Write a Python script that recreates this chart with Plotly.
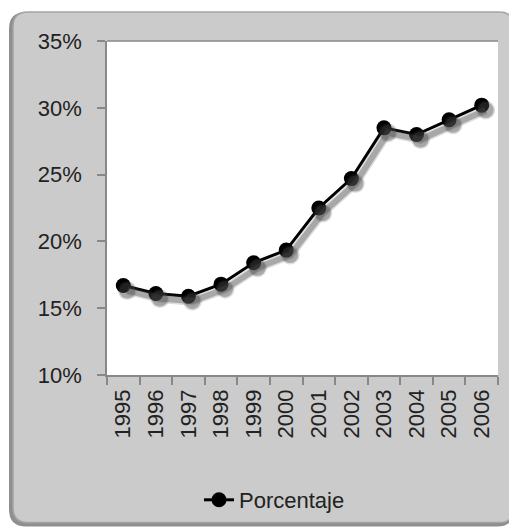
import plotly.graph_objects as go

years = ["1995", "1996", "1997", "1998", "1999", "2000", "2001", "2002", "2003", "2004", "2005", "2006"]
porcentaje = [16.7, 16.1, 15.9, 16.8, 18.4, 19.35, 22.5, 24.7, 28.5, 28.0, 29.1, 30.2]
y_ticks = [10, 15, 20, 25, 30, 35]
y_tick_labels = ["10%", "15%", "20%", "25%", "30%", "35%"]
series_name = "Porcentaje"

# page body has an 8px margin, so the figure is sized/offset to compensate
W, H = 509, 523
L, R, T, B = 99, 490, 33, 368  # plot area in figure pixels


def px(x):
    return (x - L) / (R - L)


def py(y):
    return (B - y) / (B - T)


def rounded_path(x0, y0, x1, y1, r):
    return (
        f"M {px(x0 + r)},{py(y0)} L {px(x1 - r)},{py(y0)} "
        f"Q {px(x1)},{py(y0)} {px(x1)},{py(y0 + r)} "
        f"L {px(x1)},{py(y1 - r)} Q {px(x1)},{py(y1)} {px(x1 - r)},{py(y1)} "
        f"L {px(x0 + r)},{py(y1)} Q {px(x0)},{py(y1)} {px(x0)},{py(y1 - r)} "
        f"L {px(x0)},{py(y0 + r)} Q {px(x0)},{py(y0)} {px(x0 + r)},{py(y0)} Z"
    )


fig = go.Figure()

# soft shadow drawn on an overlaid, slightly shifted axis pair
dx = 4 / ((R - L) / 12)
dy = 5 / ((B - T) / 25)
for w, ms, a in [(9, 19, 0.18), (6, 16, 0.35)]:
    fig.add_trace(go.Scatter(
        x=list(range(len(years))), y=porcentaje, mode="lines+markers",
        line=dict(color=f"rgba(70,70,70,{a})", width=w),
        marker=dict(size=ms, color=f"rgba(70,70,70,{a})"),
        xaxis="x2", yaxis="y2", showlegend=False, hoverinfo="skip",
    ))

fig.add_trace(go.Scatter(
    x=years, y=porcentaje, mode="lines+markers", name=series_name,
    line=dict(color="#000000", width=3),
    marker=dict(size=15, color="#000000"),
))

font_family = "Liberation Sans, Arial, sans-serif"

fig.update_layout(
    width=W, height=H,
    margin=dict(l=L, r=W - R, t=T, b=H - B, pad=0),
    paper_bgcolor="white",
    plot_bgcolor="white",
    font=dict(family=font_family, size=22, color="#222222"),
    xaxis=dict(
        type="category", range=[-0.5, 11.5],
        tickangle=-90, tickfont=dict(size=22),
        showline=True, linecolor="#888888", linewidth=1.5,
        ticks="outside", ticklen=8, tickcolor="#888888", tickwidth=1.5,
        tickson="boundaries", showgrid=False, zeroline=False,
        ticklabelstandoff=4,
    ),
    yaxis=dict(
        range=[10, 35], tickvals=y_ticks, ticktext=y_tick_labels,
        tickfont=dict(size=22),
        showline=True, linecolor="#888888", linewidth=1.5,
        ticks="outside", ticklen=8, tickcolor="#888888", tickwidth=1.5,
        showgrid=False, zeroline=False, ticklabelstandoff=11,
    ),
    xaxis2=dict(range=[-0.5 - dx, 11.5 - dx], overlaying="x", visible=False, fixedrange=True),
    yaxis2=dict(range=[10 + dy, 35 + dy], overlaying="y", visible=False, fixedrange=True),
    legend=dict(
        orientation="h", x=px(191), xanchor="left", y=py(492), yanchor="middle",
        font=dict(size=22, color="#222222"), bgcolor="rgba(0,0,0,0)",
    ),
    shapes=[
        dict(type="path", xref="paper", yref="paper", path=rounded_path(1, 4, 506, 520, 17),
             fillcolor="#8f8f8f", line=dict(width=0), layer="below"),
        dict(type="path", xref="paper", yref="paper", path=rounded_path(5, 4, 506, 516, 15),
             fillcolor="#cbcbcb", line=dict(color="#a4a4a4", width=1.5), layer="below"),
        dict(type="rect", xref="paper", yref="paper", x0=0, x1=1, y0=0, y1=1,
             fillcolor="white", line=dict(width=0), layer="below"),
        dict(type="line", xref="paper", yref="paper", x0=0, x1=1, y0=1, y1=1,
             line=dict(color="#888888", width=1.5)),
    ],
)

fig.write_html("out.html")
